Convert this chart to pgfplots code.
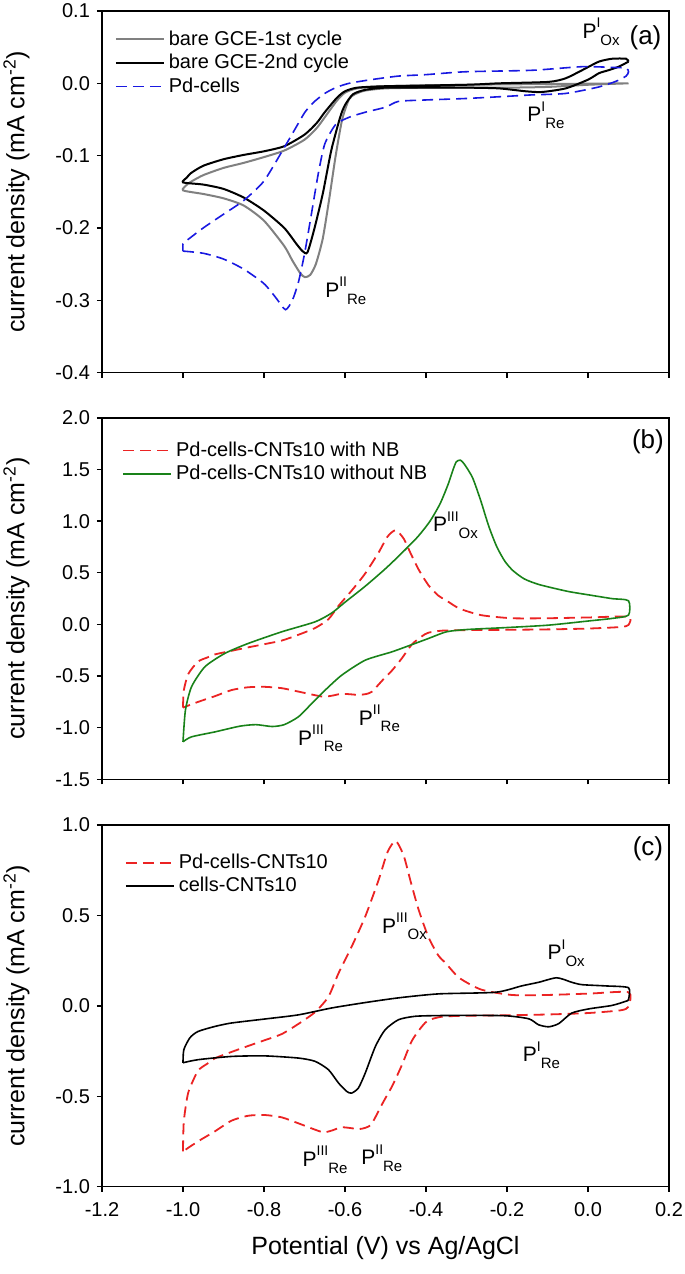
\documentclass[border=0pt]{standalone}
\usepackage{fontspec}
\setmainfont{Liberation Sans}
\usepackage{pgfplots}
\usepackage{pgfplotstable}
\pgfplotsset{compat=1.18}

\definecolor{cvgray}{RGB}{128,128,128}
\definecolor{cvblue}{RGB}{25,25,225}
\definecolor{cvred}{RGB}{235,35,35}
\definecolor{cvgreen}{RGB}{25,130,25}

% peak label: P with staggered super/subscript
\newcommand{\pk}[2]{P\raisebox{0.5em}{\fontsize{7}{8}\selectfont #1}\raisebox{-0.32em}{\fontsize{7.5}{8}\selectfont #2}}

% ---- panel (a)
\pgfplotstableread{
x y
0.10 0.000
0.00 -0.002
-0.10 -0.005
-0.20 -0.006
-0.30 -0.006
-0.40 -0.006
-0.50 -0.007
-0.55 -0.010
-0.575 -0.015
-0.59 -0.022
-0.607 -0.050
-0.623 -0.100
-0.639 -0.160
-0.655 -0.215
-0.672 -0.250
-0.686 -0.265
-0.699 -0.268
-0.71 -0.263
-0.73 -0.245
-0.75 -0.225
-0.80 -0.190
-0.85 -0.169
-0.90 -0.159
-0.95 -0.153
-1.00 -0.148
-0.99 -0.140
-0.98 -0.136
-0.95 -0.127
-0.90 -0.117
-0.85 -0.110
-0.80 -0.102
-0.75 -0.093
-0.70 -0.078
-0.67 -0.062
-0.65 -0.047
-0.62 -0.024
-0.60 -0.013
-0.57 -0.007
-0.50 -0.004
-0.30 -0.002
-0.10 -0.001
0.10 0.000
}\gceone

\pgfplotstableread{
x y
0.10 0.030
0.076 0.023
0.05 0.018
0.027 0.014
0.00 0.005
-0.055 -0.007
-0.114 -0.012
-0.154 -0.011
-0.22 -0.007
-0.30 -0.006
-0.40 -0.006
-0.50 -0.006
-0.55 -0.009
-0.58 -0.015
-0.60 -0.030
-0.612 -0.047
-0.634 -0.093
-0.655 -0.153
-0.677 -0.204
-0.693 -0.234
-0.705 -0.232
-0.72 -0.222
-0.75 -0.200
-0.80 -0.176
-0.85 -0.158
-0.90 -0.146
-0.95 -0.140
-1.00 -0.137
-0.99 -0.130
-0.98 -0.124
-0.95 -0.114
-0.90 -0.105
-0.85 -0.099
-0.80 -0.094
-0.75 -0.087
-0.70 -0.071
-0.67 -0.055
-0.65 -0.040
-0.62 -0.020
-0.60 -0.011
-0.57 -0.006
-0.50 -0.004
-0.30 -0.002
-0.22 0.000
-0.097 0.002
-0.055 0.007
-0.015 0.018
0.027 0.030
0.06 0.034
0.094 0.034
0.10 0.030
}\gcetwo

\pgfplotstableread{
x y
-1.00 -0.232
-0.95 -0.235
-0.90 -0.243
-0.85 -0.257
-0.80 -0.277
-0.77 -0.297
-0.747 -0.313
-0.73 -0.300
-0.715 -0.275
-0.70 -0.236
-0.683 -0.181
-0.666 -0.125
-0.65 -0.084
-0.623 -0.057
-0.59 -0.047
-0.55 -0.040
-0.50 -0.033
-0.468 -0.025
-0.40 -0.023
-0.302 -0.021
-0.20 -0.018
-0.139 -0.016
-0.055 -0.014
0.027 -0.005
0.07 0.003
0.094 0.010
0.10 0.016
0.094 0.021
0.06 0.022
-0.015 0.023
-0.139 0.018
-0.302 0.016
-0.40 0.012
-0.468 0.010
-0.536 0.005
-0.59 0.000
-0.623 -0.006
-0.65 -0.014
-0.677 -0.026
-0.699 -0.040
-0.72 -0.060
-0.747 -0.086
-0.80 -0.135
-0.85 -0.162
-0.90 -0.181
-0.95 -0.200
-0.99 -0.217
-1.00 -0.222
-1.00 -0.232
}\pdcells

% ---- panels (b) and (c)
\pgfplotstableread{
x y
-1.000 -0.805
-0.998 -0.640
-0.987 -0.480
-0.963 -0.360
-0.940 -0.320
-0.921 -0.290
-0.880 -0.255
-0.839 -0.222
-0.798 -0.190
-0.756 -0.156
-0.715 -0.100
-0.674 -0.035
-0.641 0.050
-0.616 0.180
-0.583 0.330
-0.550 0.494
-0.517 0.696
-0.495 0.850
-0.475 0.912
-0.455 0.830
-0.437 0.680
-0.418 0.530
-0.394 0.380
-0.370 0.280
-0.351 0.235
-0.318 0.155
-0.264 0.090
-0.188 0.060
-0.100 0.060
0.007 0.068
0.100 0.075
0.100 -0.005
0.080 -0.025
0.000 -0.040
-0.100 -0.048
-0.200 -0.052
-0.300 -0.055
-0.360 -0.060
-0.394 -0.080
-0.410 -0.114
-0.435 -0.194
-0.460 -0.330
-0.484 -0.446
-0.505 -0.530
-0.534 -0.652
-0.550 -0.675
-0.567 -0.682
-0.590 -0.675
-0.610 -0.672
-0.630 -0.688
-0.652 -0.700
-0.674 -0.685
-0.715 -0.650
-0.756 -0.617
-0.798 -0.604
-0.839 -0.608
-0.880 -0.635
-0.921 -0.694
-0.963 -0.750
-1.000 -0.805
}\pdcnt

\pgfplotstableread{
x y
-1.000 -1.136
-0.994 -0.830
-0.979 -0.604
-0.946 -0.410
-0.897 -0.281
-0.839 -0.184
-0.756 -0.071
-0.674 0.025
-0.633 0.110
-0.600 0.215
-0.550 0.370
-0.500 0.540
-0.460 0.690
-0.420 0.850
-0.390 1.000
-0.365 1.170
-0.345 1.360
-0.333 1.500
-0.325 1.575
-0.315 1.590
-0.305 1.550
-0.285 1.420
-0.265 1.200
-0.245 0.950
-0.225 0.750
-0.205 0.610
-0.185 0.520
-0.157 0.440
-0.120 0.385
-0.050 0.320
0.005 0.284
0.059 0.250
0.100 0.229
0.100 0.090
0.059 0.058
0.005 0.035
-0.098 -0.007
-0.200 -0.030
-0.298 -0.049
-0.349 -0.071
-0.394 -0.136
-0.427 -0.184
-0.484 -0.265
-0.550 -0.346
-0.608 -0.491
-0.649 -0.636
-0.682 -0.765
-0.715 -0.894
-0.750 -0.970
-0.780 -0.988
-0.820 -0.970
-0.860 -0.985
-0.921 -1.040
-0.979 -1.088
-1.000 -1.136
}\pdcntnonb

\pgfplotstableread{
x y
-1.000 -0.315
-0.963 -0.298
-0.880 -0.280
-0.798 -0.277
-0.715 -0.289
-0.674 -0.307
-0.641 -0.353
-0.616 -0.427
-0.596 -0.473
-0.584 -0.483
-0.567 -0.455
-0.550 -0.372
-0.525 -0.225
-0.501 -0.133
-0.468 -0.077
-0.427 -0.058
-0.369 -0.054
-0.300 -0.053
-0.203 -0.055
-0.146 -0.072
-0.122 -0.105
-0.097 -0.116
-0.072 -0.098
-0.040 -0.040
0.002 -0.017
0.059 0.002
0.093 0.025
0.100 0.035
0.100 0.100
0.044 0.110
-0.015 0.117
-0.040 0.130
-0.077 0.155
-0.122 0.130
-0.164 0.110
-0.228 0.075
-0.369 0.066
-0.468 0.044
-0.550 0.018
-0.633 -0.012
-0.715 -0.050
-0.798 -0.073
-0.880 -0.095
-0.921 -0.114
-0.963 -0.142
-0.983 -0.177
-0.998 -0.243
-1.000 -0.315
}\cellcnt

\tikzset{
  plab/.style={anchor=base west, font=\fontsize{10.5}{12}\selectfont},
  tag/.style={anchor=center, font=\fontsize{13}{15}\selectfont},
  dsh/.style={dash pattern=on 5.5pt off 3pt},
}

\pgfplotsset{
  cvpanel/.style={
    scale only axis, width=283.5pt, height=180.8pt,
    xmin=-1.2, xmax=0.2,
    xtick={-1.2,-1.0,-0.8,-0.6,-0.4,-0.2,0,0.2},
    tick align=outside, xtick pos=left, ytick pos=left,
    major tick length=2.5pt,
    axis line style={line width=0.7pt},
    tick style={line width=0.7pt, black},
    ticklabel style={font=\fontsize{10}{12}\selectfont},
    xticklabel style={yshift=-2pt},
    /pgf/number format/fixed, /pgf/number format/fixed zerofill,
    /pgf/number format/precision=1, /pgf/number format/assume math mode=true,
    ylabel={current density (mA cm\textsuperscript{-2})},
    ylabel style={at={(axis description cs:-0.151,0.5)}, anchor=center,
      font=\fontsize{12.5}{14}\selectfont},
    legend cell align=left,
    legend image code/.code={\draw[##1] (0pt,0pt) -- (24pt,0pt);},
    legend style={draw=none, fill=none, anchor=north west,
      font=\fontsize{10}{12}\selectfont, inner sep=0pt, row sep=-1pt},
  },
}

\begin{document}
\begin{tikzpicture}
% (a)
\begin{axis}[cvpanel, anchor=north west, at={(0pt,0pt)},
  ymin=-0.4, ymax=0.1, ytick={-0.4,-0.3,-0.2,-0.1,0,0.1},
  xticklabels={},
  legend style={at={(axis description cs:0.022,0.958)}}]
\addplot[cvgray, line width=1pt, smooth, tension=0.4] table {\gceone};
\addlegendentry{bare GCE-1st cycle}
\addplot[black, line width=1pt, smooth, tension=0.4] table {\gcetwo};
\addlegendentry{bare GCE-2nd cycle}
\addplot[cvblue, line width=0.8pt, dsh, smooth, tension=0.4] table {\pdcells};
\addlegendentry{Pd-cells}
\node[plab] at (axis cs:-0.031,0.062) {\pk{I}{Ox}};
\node[plab] at (axis cs:-0.167,-0.053) {\pk{I}{Re}};
\node[plab] at (axis cs:-0.666,-0.296) {\pk{II}{Re}};
\node[tag] at (axis cs:0.142,0.063) {(a)};
\end{axis}
% (b)
\begin{axis}[cvpanel, anchor=north west, at={(0pt,-203.4pt)},
  ymin=-1.5, ymax=2.0, ytick={-1.5,-1,-0.5,0,0.5,1,1.5,2},
  xticklabels={},
  legend style={at={(axis description cs:0.035,0.946)}}]
\addplot[cvred, line width=0.9pt, dsh, smooth, tension=0.4] table {\pdcnt};
\addlegendentry{Pd-cells-CNTs10 with NB}
\addplot[cvgreen, line width=0.8pt, smooth, tension=0.4] table {\pdcntnonb};
\addlegendentry{Pd-cells-CNTs10 without NB}
\node[plab] at (axis cs:-0.40,0.896) {\pk{III}{Ox}};
\node[plab] at (axis cs:-0.733,-1.168) {\pk{III}{Re}};
\node[plab] at (axis cs:-0.583,-0.975) {\pk{II}{Re}};
\node[tag] at (axis cs:0.148,1.768) {(b)};
\end{axis}
% (c)
\begin{axis}[cvpanel, anchor=north west, at={(0pt,-407pt)},
  ymin=-1.0, ymax=1.0, ytick={-1,-0.5,0,0.5,1},
  xlabel={Potential (V) vs Ag/AgCl},
  xlabel style={at={(axis description cs:0.5,-0.169)}, anchor=center,
    font=\fontsize{12.5}{14}\selectfont},
  legend style={at={(axis description cs:0.04,0.932)}}]
\addplot[cvred, line width=0.9pt, dsh, smooth, tension=0.4] table {\pdcnt};
\addlegendentry{Pd-cells-CNTs10}
\addplot[black, line width=0.8pt, smooth, tension=0.4] table {\cellcnt};
\addlegendentry{cells-CNTs10}
\node[plab] at (axis cs:-0.526,0.402) {\pk{III}{Ox}};
\node[plab] at (axis cs:-0.117,0.254) {\pk{I}{Ox}};
\node[plab] at (axis cs:-0.178,-0.308) {\pk{I}{Re}};
\node[plab] at (axis cs:-0.722,-0.888) {\pk{III}{Re}};
\node[plab] at (axis cs:-0.577,-0.878) {\pk{II}{Re}};
\node[tag] at (axis cs:0.148,0.871) {(c)};
\end{axis}
\pgfresetboundingbox
\path[use as bounding box] (-51pt,5.5pt) rectangle (291.5pt,-631.5pt);
\end{tikzpicture}
\end{document}
